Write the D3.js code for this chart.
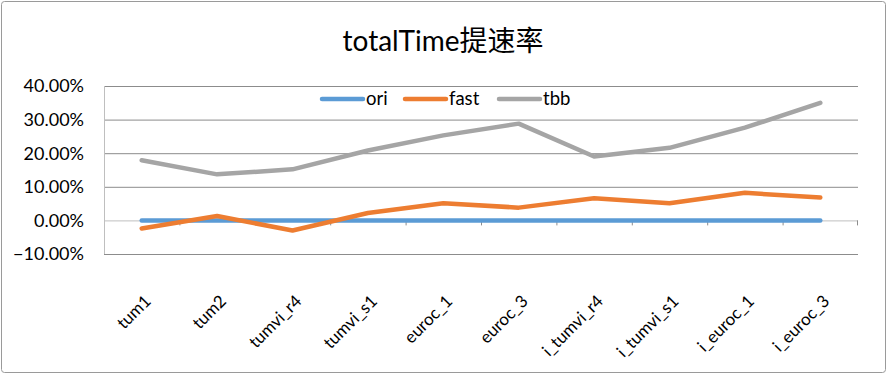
<!DOCTYPE html>
<html>
<head>
<meta charset="utf-8">
<script src="https://cdn.jsdelivr.net/npm/d3@7"></script>
<style>
  body { margin: 0; background: #fff; }
  text { font-family: Lato, "Noto Sans CJK SC", sans-serif; fill: #000; }
</style>
</head>
<body>
<svg width="887" height="374"></svg>
<script>
var categories = ["tum1", "tum2", "tumvi_r4", "tumvi_s1", "euroc_1", "euroc_3",
                  "i_tumvi_r4", "i_tumvi_s1", "i_euroc_1", "i_euroc_3"];
var ori  = [0, 0, 0, 0, 0, 0, 0, 0, 0, 0];
var fast = [-0.024, 0.013, -0.030, 0.022, 0.051, 0.038, 0.066, 0.051, 0.082, 0.068];
var tbb  = [0.179, 0.137, 0.152, 0.208, 0.253, 0.288, 0.190, 0.216, 0.276, 0.350];
var yTicks = [-0.1, 0, 0.1, 0.2, 0.3, 0.4];

var series = [
  {name: "ori", values: ori, color: "#5B9BD5"},
  {name: "fast", values: fast, color: "#ED7D31"},
  {name: "tbb", values: tbb, color: "#A5A5A5"}
];

var svg = d3.select("svg"),
    width = +svg.attr("width"),
    height = +svg.attr("height");

var margin = {left: 104, right: 29, top: 86, bottom: 120};

svg.append("rect")
    .attr("x", 1.5).attr("y", 1.5)
    .attr("width", width - 3).attr("height", height - 3)
    .attr("rx", 3)
    .attr("fill", "#fff")
    .attr("stroke", "#9a9a9a");

var x = d3.scaleBand()
    .domain(categories)
    .range([margin.left, width - margin.right]);

var y = d3.scaleLinear()
    .domain([-0.1, 0.4])
    .range([height - margin.bottom, margin.top]);

// gridlines
svg.append("g")
    .selectAll("line")
    .data(yTicks.filter(function(d) { return d !== 0; }))
    .enter().append("line")
    .attr("x1", margin.left).attr("x2", width - margin.right)
    .attr("y1", function(d) { return y(d) + 0.5; })
    .attr("y2", function(d) { return y(d) + 0.5; })
    .attr("stroke", "#8c8c8c")
    .attr("stroke-width", 1);

// left axis line
svg.append("line")
    .attr("x1", margin.left + 0.5).attr("x2", margin.left + 0.5)
    .attr("y1", y(0.4)).attr("y2", y(-0.1))
    .attr("stroke", "#bfbfbf");

// y labels
svg.append("g")
    .selectAll("text")
    .data(yTicks)
    .enter().append("text")
    .attr("x", margin.left - 20)
    .attr("y", function(d) { return y(d); })
    .attr("dy", "0.35em")
    .attr("text-anchor", "end")
    .style("font-size", "18px")
    .text(function(d) { return d3.format(".2%")(d); });

// zero axis with category ticks
svg.append("line")
    .attr("x1", margin.left).attr("x2", width - margin.right)
    .attr("y1", y(0) + 0.5).attr("y2", y(0) + 0.5)
    .attr("stroke", "#bfbfbf")
    .attr("stroke-width", 1);

svg.append("g")
    .selectAll("line")
    .data(categories.slice(1).concat(["end"]))
    .enter().append("line")
    .attr("x1", function(d) { return d === "end" ? width - margin.right - 0.5 : x(d) + 0.5; })
    .attr("x2", function(d) { return d === "end" ? width - margin.right - 0.5 : x(d) + 0.5; })
    .attr("y1", y(0)).attr("y2", y(0) + 5)
    .attr("stroke", "#8c8c8c");

// x labels
svg.append("g")
    .selectAll("text")
    .data(categories)
    .enter().append("text")
    .attr("transform", function(d) {
      return "translate(" + (x(d) + x.bandwidth() / 2 + 6) + "," + (height - margin.bottom + 44) + ") rotate(-45)";
    })
    .attr("text-anchor", "end")
    .attr("dy", "0.35em")
    .style("font-size", "17px")
    .text(function(d) { return d; });

// lines
var line = d3.line()
    .x(function(d, i) { return x(categories[i]) + x.bandwidth() / 2; })
    .y(function(d) { return y(d); });

svg.append("g")
    .selectAll("path")
    .data(series)
    .enter().append("path")
    .attr("d", function(d) { return line(d.values); })
    .attr("fill", "none")
    .attr("stroke", function(d) { return d.color; })
    .attr("stroke-width", 4.5)
    .attr("stroke-linecap", "round")
    .attr("stroke-linejoin", "round");

// legend
var legendX = [322, 405, 499];
var legend = svg.append("g")
    .selectAll("g")
    .data(series)
    .enter().append("g")
    .attr("transform", function(d, i) { return "translate(" + legendX[i] + ",99)"; });

legend.append("line")
    .attr("x1", 0).attr("x2", 41)
    .attr("stroke", function(d) { return d.color; })
    .attr("stroke-width", 4.5)
    .attr("stroke-linecap", "round");

legend.append("text")
    .attr("x", 44)
    .attr("dy", "0.35em")
    .style("font-size", "18.5px")
    .text(function(d) { return d.name; });

// title
svg.append("text")
    .attr("x", 443)
    .attr("y", 51)
    .attr("text-anchor", "middle")
    .style("font-size", "28px")
    .text("totalTime提速率");
</script>
</body>
</html>
